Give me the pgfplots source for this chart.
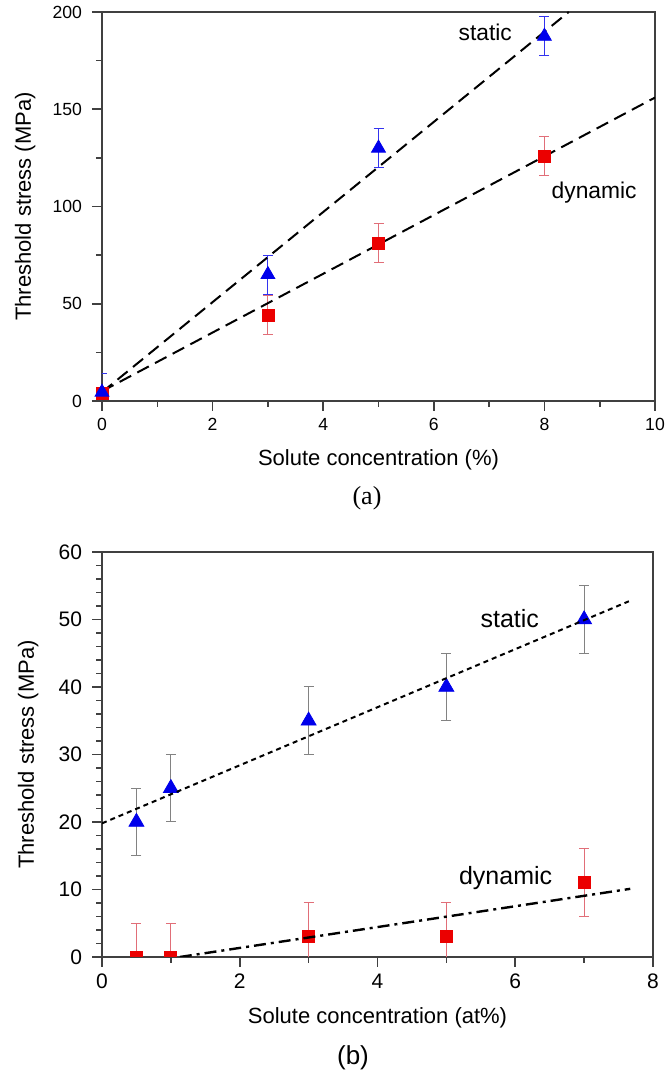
\documentclass[border=0pt]{standalone}
\usepackage{fontspec}
\setmainfont{Liberation Sans}
\newfontfamily\timesfont{Liberation Serif}
\usepackage{pgfplots}
\pgfplotsset{compat=1.18}
\definecolor{mblue}{RGB}{0,0,235}
\definecolor{mred}{RGB}{235,0,0}
\definecolor{ered}{RGB}{225,110,120}
\definecolor{egray}{RGB}{130,130,130}
\begin{document}
\begin{tikzpicture}
\useasboundingbox (0,0) rectangle (333.5pt,537pt);
\pgfplotsset{
 common/.style={
  scale only axis, anchor=south west,
  axis line style={black!75, line width=0.8pt},
  tick style={black!75, line width=0.8pt},
  tick align=outside, xtick pos=bottom, ytick pos=left,
  major tick length=5pt, minor tick length=3pt,
  /pgf/number format/assume math mode=true,
  yticklabel style={xshift=-1.5pt},
 }
}
% ---------------- (a) ----------------
\begin{axis}[common, at={(51pt,336.5pt)}, width=276.5pt, height=194.5pt,
 xmin=0, xmax=10, ymin=0, ymax=200,
 xtick={0,2,...,10}, minor x tick num=1,
 ytick={0,50,...,200}, minor y tick num=1,
 ticklabel style={font=\fontsize{8.8}{10}\selectfont},
 xlabel={Solute concentration (\%)}, ylabel={Threshold stress (MPa)},
 label style={font=\fontsize{11}{13}\selectfont},
 xlabel style={at={(axis description cs:0.5,-0.152)}, anchor=center},
 ylabel style={at={(axis description cs:-0.139,0.5)}, anchor=center},
]
\addplot[only marks, mark=square*, mark size=3pt, color=mred,
  error bars/.cd, y dir=both, y explicit,
  error bar style={ered, line width=0.5pt},
  error mark options={rotate=90, ered, mark size=2.5pt, line width=0.5pt}]
 table[x=x, y=y, y error=e] {
x y e
0 4 3
3 44 10
5 81 10
8 126 10
};
\addplot[only marks, mark=triangle*, mark size=4pt, color=mblue,
  error bars/.cd, y dir=both, y explicit,
  error bar style={mblue!80, line width=0.5pt},
  error mark options={rotate=90, mblue!80, mark size=2.5pt, line width=0.5pt}]
 table[x=x, y=y, y error=e] {
x y e
0 4.5 9.5
3 65 10
5 130 10
8 187.5 10
};
\addplot[black, line width=1pt, dash pattern=on 6.5pt off 3.5pt] coordinates {(0,4.5) (8.44,200)};
\addplot[black, line width=1pt, dash pattern=on 6.5pt off 3.5pt] coordinates {(0,5) (10,156)};
\node[font=\fontsize{11.4}{13}\selectfont] at (axis cs:6.93,189.7) {static};
\node[font=\fontsize{11.4}{13}\selectfont] at (axis cs:8.9,107) {dynamic};
\end{axis}
\node[font=\timesfont\fontsize{13}{15}\selectfont] at (183.5pt,288pt) {(a)};
% ---------------- (b) ----------------
\begin{axis}[common, at={(51pt,58.5pt)}, width=275.5pt, height=202.5pt,
 xmin=0, xmax=8, ymin=0, ymax=60,
 xtick={0,2,...,8}, minor x tick num=1,
 ytick={0,10,...,60}, minor y tick num=4,
 ticklabel style={font=\fontsize{10.5}{12}\selectfont},
 xlabel={Solute concentration (at\%)}, ylabel={Threshold stress (MPa)},
 label style={font=\fontsize{11}{13}\selectfont},
 xlabel style={at={(axis description cs:0.5,-0.151)}, anchor=center},
 ylabel style={at={(axis description cs:-0.134,0.5)}, anchor=center},
 clip marker paths=true,
]
\addplot[only marks, mark=square*, mark size=3pt, color=mred,
  error bars/.cd, y dir=both, y explicit,
  error bar style={ered, line width=0.5pt},
  error mark options={rotate=90, ered, mark size=2.5pt, line width=0.5pt}]
 table[x=x, y=y, y error=e] {
x y e
0.5 0 5
1 0 5
3 3 5
5 3 5
7 11 5
};
\addplot[only marks, mark=triangle*, mark size=4.3pt, color=mblue,
  error bars/.cd, y dir=both, y explicit,
  error bar style={egray, line width=0.5pt},
  error mark options={rotate=90, egray, mark size=2.5pt, line width=0.5pt}]
 table[x=x, y=y, y error=e] {
x y e
0.5 20 5
1 25 5
3 35 5
5 40 5
7 50 5
};
\addplot[black, line width=1pt, dash pattern=on 2.5pt off 2pt] coordinates {(0,19.8) (7.65,52.7)};
\addplot[black, line width=1.2pt, dash pattern=on 6pt off 2.5pt on 1.5pt off 2.5pt] coordinates {(1.13,0) (7.67,10.1)};
\node[font=\fontsize{12.5}{14}\selectfont] at (axis cs:5.92,50.2) {static};
\node[font=\fontsize{12.5}{14}\selectfont] at (axis cs:5.86,11.7) {dynamic};
\end{axis}
\node[font=\fontsize{13}{15}\selectfont] at (176.5pt,8pt) {(b)};
\end{tikzpicture}
\end{document}
